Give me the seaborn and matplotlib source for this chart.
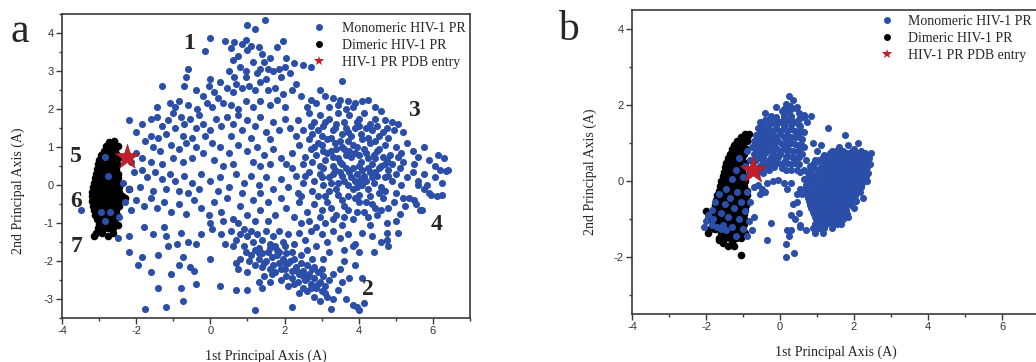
import numpy as np
import pandas as pd
import seaborn as sns
import matplotlib.pyplot as plt
from matplotlib.lines import Line2D
from matplotlib.ticker import MultipleLocator

# ---------------- data ----------------
# panel a, monomeric HIV-1 PR (scattered)
mono_a = [
    (1.48, 4.35), (1.0, 4.22), (1.2, 4.1), (0.0, 3.88), (0.4, 3.78), (0.65, 3.77), (0.85, 3.72), (0.95, 3.82),
    (1.1, 3.65), (1.3, 3.62), (1.95, 3.78), (1.8, 3.62), (1.0, 3.55), (-0.15, 3.52), (1.4, 3.45), (0.55, 3.6),
    (1.6, 3.35), (1.45, 3.25), (1.55, 3.05), (1.7, 3.0), (1.85, 3.05), (2.0, 3.1), (2.05, 3.35), (2.25, 3.2),
    (2.5, 3.15), (2.7, 3.1), (0.75, 3.4), (0.6, 3.3), (0.8, 3.1), (0.5, 3.0), (0.65, 2.85), (0.95, 3.0),
    (1.15, 3.25), (1.25, 2.95), (1.35, 3.05), (1.9, 2.85), (2.15, 2.95), (-0.6, 3.05), (-0.65, 2.85), (0.0, 2.8),
    (-0.05, 2.6), (0.25, 2.7), (0.95, 2.85), (1.5, 2.8), (3.55, 2.75),
    (-1.3, 2.6), (-0.7, 2.6), (-0.4, 2.5), (-0.2, 2.35), (0.1, 2.45), (0.2, 2.3), (0.45, 2.55), (0.6, 2.45),
    (0.7, 2.65), (0.85, 2.55), (1.05, 2.6), (1.2, 2.5), (1.35, 2.7), (1.55, 2.5), (1.75, 2.55), (1.95, 2.4),
    (2.2, 2.5), (2.3, 2.65), (2.45, 2.35), (2.7, 2.25), (2.95, 2.5), (3.1, 2.35), (3.3, 2.3), (3.5, 2.25),
    (3.7, 2.2), (3.9, 2.15), (4.1, 2.2), (4.25, 2.25), (-0.85, 2.2), (-0.95, 2.05), (-0.6, 2.1), (-0.35, 2.0),
    (-0.1, 2.15), (0.05, 2.05), (0.35, 2.15), (0.55, 2.1), (0.75, 2.0), (0.95, 2.2), (1.15, 2.05), (1.35, 2.2),
    (1.6, 2.1), (1.8, 2.25), (2.0, 2.05), (2.6, 2.05), (2.85, 2.15), (3.2, 2.05), (3.45, 2.1), (3.65, 2.0),
    (3.85, 2.05), (4.45, 2.05), (-1.1, 2.15), (-1.45, 2.05),
    (-2.2, 1.7), (-2.0, 1.4), (-1.85, 1.6), (-1.6, 1.75), (-1.45, 1.8), (-1.3, 1.55), (-1.15, 1.7), (-1.0, 1.9),
    (-0.8, 1.8), (-0.7, 1.6), (-0.95, 1.5), (-1.2, 1.35), (-1.4, 1.25), (-1.6, 1.3), (-0.55, 1.75), (-0.3, 1.85),
    (-0.4, 1.5), (-0.2, 1.6), (0.0, 1.45), (0.15, 1.75), (0.3, 1.55), (0.45, 1.8), (0.6, 1.6), (0.75, 1.85),
    (0.85, 1.45), (1.0, 1.7), (1.2, 1.55), (1.35, 1.8), (1.5, 1.4), (1.7, 1.65), (1.85, 1.45), (2.0, 1.75),
    (2.15, 1.5), (2.35, 1.7), (2.5, 1.45), (2.65, 1.9), (2.8, 1.65), (2.95, 1.85), (3.05, 1.55), (3.2, 1.75),
    (3.35, 1.5), (3.45, 1.9), (3.6, 1.65), (3.75, 1.85), (3.9, 1.5), (4.0, 1.75), (4.15, 1.9), (4.3, 1.6),
    (4.45, 1.75), (4.6, 1.95), (4.75, 1.5), (4.9, 1.65), (5.05, 1.6), (5.2, 1.4), (3.0, 1.3), (3.25, 1.25),
    (3.55, 1.35), (3.8, 1.3), (4.05, 1.35), (4.25, 1.25), (4.55, 1.3), (4.8, 1.25), (2.75, 1.35), (-0.15, 1.3),
    (0.55, 1.3), (1.1, 1.25), (1.6, 1.2), (2.3, 1.3), (-0.75, 1.3), (-0.5, 1.25),
    (-1.75, 1.15), (-1.55, 1.0), (-1.35, 0.9), (-1.05, 1.05), (-0.85, 0.95), (-0.65, 1.1), (-0.4, 1.0),
    (-0.2, 0.85), (0.05, 1.1), (0.25, 1.0), (0.5, 0.85), (0.75, 1.05), (1.0, 0.9), (1.25, 1.0), (1.45, 0.8),
    (1.7, 0.95), (1.9, 0.7), (2.2, 0.85), (2.4, 1.05), (2.55, 0.75), (2.7, 0.95), (2.85, 0.8), (3.0, 1.05),
    (3.1, 0.65), (3.25, 0.9), (3.35, 1.1), (3.45, 0.7), (3.6, 0.95), (3.7, 1.15), (3.8, 0.75), (3.95, 1.0),
    (4.05, 0.6), (4.2, 0.85), (4.3, 1.1), (4.45, 0.7), (4.55, 0.95), (4.7, 1.05), (4.85, 0.8), (5.0, 1.0),
    (5.15, 0.85), (5.3, 1.1), (5.45, 0.9), (5.6, 0.75), (5.75, 1.0), (5.9, 0.65), (6.15, 0.8), (6.3, 0.7),
    (6.05, 0.5), (5.5, 0.55), (5.2, 0.6), (4.9, 0.55), (4.6, 0.5), (4.35, 0.55), (3.55, 0.55), (3.3, 0.5),
    (2.95, 0.5), (2.75, 0.6), (2.5, 0.55), (-2.0, 0.85), (-2.15, 0.6), (-1.85, 0.7), (-1.6, 0.6), (-1.3, 0.55),
    (-1.0, 0.7), (-0.75, 0.6), (-0.5, 0.7), (0.1, 0.65), (0.35, 0.5), (0.6, 0.55), (1.15, 0.6), (1.35, 0.5),
    (1.6, 0.55), (2.05, 0.55),
    (-2.05, 0.35), (-1.85, 0.4), (-1.7, 0.2), (-1.5, 0.35), (-1.3, 0.15), (-1.1, 0.3), (-0.95, 0.1), (-0.7, 0.25),
    (-0.5, 0.05), (-0.25, 0.3), (0.0, 0.1), (0.25, 0.2), (0.5, -0.05), (0.7, 0.3), (0.9, 0.05), (1.1, 0.25),
    (1.3, 0.0), (1.5, 0.2), (1.7, -0.1), (1.9, 0.15), (2.1, -0.05), (2.3, 0.25), (2.5, 0.05), (2.65, 0.35),
    (2.8, 0.1), (2.95, 0.3), (3.05, 0.0), (3.2, 0.2), (3.35, 0.4), (3.45, 0.05), (3.55, 0.25), (3.65, 0.45),
    (3.7, 0.0), (3.8, 0.2), (3.9, 0.1), (3.95, 0.3), (4.0, 0.05), (4.05, 0.15), (4.1, 0.0), (4.15, 0.25),
    (4.2, 0.1), (4.3, 0.35), (4.4, 0.05), (4.5, 0.25), (4.6, -0.05), (4.7, 0.2), (4.8, 0.4), (4.9, 0.1),
    (5.0, 0.3), (5.15, 0.0), (5.3, 0.2), (5.45, 0.35), (5.6, 0.1), (5.75, 0.3), (5.85, 0.0), (6.05, 0.2),
    (6.25, 0.05), (6.4, 0.4), (3.85, -0.1), (3.95, -0.05), (4.25, -0.1), (-2.2, -0.1), (-2.35, 0.05),
    (-1.9, -0.05), (-1.55, -0.15), (-1.2, -0.1), (-0.85, -0.15), (-0.6, -0.2), (-0.3, -0.1), (0.2, -0.15),
    (0.85, -0.2), (1.35, -0.2), (2.35, -0.2), (2.75, -0.15),
    (-2.3, -0.45), (-2.15, -0.65), (-2.0, -0.4), (-1.8, -0.55), (-1.6, -0.35), (-1.45, -0.6), (-1.25, -0.45),
    (-1.05, -0.7), (-0.85, -0.5), (-0.65, -0.75), (-0.45, -0.4), (-0.25, -0.6), (-0.05, -0.8), (0.1, -0.45),
    (0.3, -0.7), (0.45, -0.35), (0.6, -0.9), (0.8, -0.55), (1.0, -0.8), (1.15, -0.4), (1.35, -0.65),
    (1.55, -0.45), (1.75, -0.8), (1.9, -0.35), (2.05, -0.6), (2.25, -0.85), (2.4, -0.45), (2.6, -0.7),
    (2.8, -0.5), (2.95, -0.85), (3.1, -0.3), (3.25, -0.6), (3.4, -0.8), (3.55, -0.4), (3.7, -0.65),
    (3.85, -0.9), (4.0, -0.45), (4.15, -0.7), (4.35, -0.5), (4.5, -0.8), (4.65, -0.35), (4.8, -0.6),
    (4.95, -0.45), (5.1, -0.75), (5.25, -0.55), (5.35, -0.35), (5.55, -0.5), (5.7, -0.65), (5.95, -0.25),
    (6.1, -0.3), (-3.5, -0.65), (-2.45, -0.85), (0.0, -1.0), (0.35, -0.95), (0.75, -1.0), (1.2, -0.95),
    (1.55, -0.95), (2.45, -1.0), (3.1, -1.0), (3.55, -1.05), (4.3, -1.05), (4.75, -1.0), (5.0, -0.95),
    (-2.2, -1.35), (-2.5, -1.4), (-1.8, -1.1), (-1.55, -1.3), (-1.25, -1.1), (-1.2, -1.35), (-0.8, -1.25),
    (-0.4, -1.55), (-0.25, -1.3), (0.05, -1.15), (0.3, -1.3), (0.55, -1.2), (0.7, -1.45), (0.8, -1.3),
    (0.9, -1.15), (1.0, -1.35), (1.1, -1.2), (1.15, -1.5), (1.25, -1.3), (1.4, -1.45), (1.5, -1.2),
    (1.6, -1.55), (1.7, -1.35), (1.85, -1.2), (1.95, -1.5), (2.1, -1.3), (2.25, -1.55), (2.4, -1.25),
    (2.55, -1.45), (2.7, -1.2), (2.85, -1.6), (3.0, -1.3), (3.15, -1.5), (3.3, -1.2), (3.5, -1.4),
    (3.7, -1.3), (3.9, -1.55), (4.1, -1.25), (4.35, -1.35), (4.6, -1.5), (4.75, -1.25), (3.6, -1.7),
    (3.2, -1.75), (4.0, -1.75), (0.9, -1.6), (1.3, -1.65), (1.8, -1.7), (2.2, -1.75), (2.6, -1.7), (0.6, -1.6),
    (0.95, -1.75), (1.1, -1.85), (1.2, -1.7), (1.3, -1.95), (1.4, -1.8), (1.5, -2.0), (1.55, -1.75),
    (1.65, -1.9), (1.7, -2.1), (1.8, -1.85), (1.85, -2.05), (1.95, -1.95), (2.0, -2.2), (2.05, -1.8),
    (2.1, -2.05), (2.2, -2.25), (2.25, -1.95), (2.3, -2.15), (2.4, -2.35), (2.45, -2.05), (2.5, -2.25),
    (2.55, -2.5), (2.6, -2.1), (2.65, -2.35), (2.7, -2.6), (2.75, -2.2), (2.8, -2.45), (2.85, -2.7),
    (2.9, -2.3), (2.95, -2.55), (3.0, -2.8), (3.05, -2.4), (3.1, -2.65), (3.15, -2.95), (3.2, -2.5),
    (2.6, -2.8), (2.8, -2.95), (2.95, -3.05), (2.5, -2.7), (2.35, -2.55), (2.2, -2.45), (2.05, -2.4),
    (1.75, -2.3), (1.6, -2.2), (1.45, -2.4), (1.4, -2.15), (1.2, -2.1), (1.05, -2.0), (1.3, -2.55),
    (1.6, -2.55), (1.9, -2.5), (2.1, -2.65), (2.4, -2.85), (3.0, -2.2), (3.3, -2.35), (3.45, -2.75),
    (3.5, -2.2), (3.3, -3.0), (3.55, -2.55), (3.75, -2.45), (3.65, -3.0), (3.85, -3.15), (3.95, -3.2),
    (4.0, -3.3), (4.15, -3.1), (4.1, -2.45), (3.9, -2.1), (3.6, -2.0), (2.75, -1.95), (3.05, -1.95),
    (2.45, -1.85), (2.0, -1.6), (1.75, -1.6), (0.8, -1.95), (0.75, -2.2), (1.0, -2.3), (1.2, -3.3),
    (1.4, -2.7), (2.2, -3.2), (3.25, -3.25), (0.7, -2.05),
    (-1.75, -3.25), (-1.2, -3.2), (-0.75, -3.05), (-1.4, -2.7), (-0.8, -2.7), (-0.4, -2.6), (0.25, -2.65),
    (-1.6, -2.3), (-1.05, -2.35), (-0.85, -2.1), (-0.55, -2.15), (-0.45, -2.25), (0.0, -1.95), (-1.95, -2.1),
    (-2.2, -1.75), (-1.85, -1.9), (-1.4, -1.85), (-1.15, -1.6), (-0.75, -1.9), (-0.6, -1.5), (0.4, -1.55),
    (-0.9, -1.55), (0.7, -2.75), (1.0, -2.75),
    (5.6, 0.0), (6.2, 0.4), (6.35, 0.38), (5.5, -0.4), (5.9, -0.2), (5.75, -0.1), (6.25, -0.25), (5.05, -1.25),
    (4.75, -1.45), (4.4, -1.75), (4.8, -1.6), (3.85, -1.6), (5.65, -0.65),
    (3.15, 0.85), (3.4, 0.95), (3.65, 0.8), (3.9, 0.85), (4.15, 0.95), (4.4, 0.8), (4.65, 0.75), (3.05, 0.45),
    (3.3, 0.3), (3.5, 0.6), (3.75, 0.35), (4.0, 0.5), (4.25, 0.45), (4.45, 0.35), (4.7, 0.55), (3.2, -0.15),
    (3.45, -0.25), (3.7, -0.3), (4.0, -0.25), (4.3, -0.3), (4.55, -0.2), (3.3, 1.45), (3.65, 1.5), (4.0, 1.55),
    (4.35, 1.45), (4.65, 1.4), (2.9, 1.1), (3.15, 1.2), (3.5, 1.15), (3.85, 1.05), (4.1, 1.2), (4.45, 1.15),
    (2.65, 1.2), (2.55, 0.25), (2.2, 0.45), (2.45, -0.3),
    (2.7, 1.55), (2.9, 1.45), (3.1, 1.65), (3.4, 1.6), (3.7, 1.4), (3.95, 1.65), (4.2, 1.5), (4.5, 1.55),
    (4.7, 1.7), (4.95, 1.45), (2.8, 1.0), (3.05, 0.9), (3.3, 0.75), (3.55, 1.0), (3.75, 0.9), (4.0, 0.8),
    (4.25, 0.7), (4.5, 0.9), (4.75, 0.65), (5.05, 0.75), (3.0, 0.2), (3.25, 0.05), (3.5, 0.35), (3.6, 0.1),
    (3.85, 0.45), (4.1, 0.4), (4.35, 0.2), (4.55, 0.45), (4.8, 0.25), (5.1, 0.45), (2.9, -0.3), (3.15, -0.45),
    (3.4, -0.1), (3.6, -0.55), (3.9, -0.35), (4.2, -0.45), (4.45, -0.6), (4.7, -0.15), (5.0, -0.2),
    (5.2, -0.35), (3.0, -0.65), (3.3, -0.9), (3.6, -0.85), (3.95, -0.7), (4.25, -0.85), (4.6, -0.65),
    (2.65, -0.95), (2.85, -1.1),
    (1.3, -1.8), (1.45, -2.05), (1.65, -2.35), (1.9, -2.2), (2.15, -2.0), (2.35, -2.3), (2.6, -2.45),
    (2.8, -2.15), (2.9, -2.6), (3.1, -2.85), (2.7, -2.7), (2.5, -2.4), (2.25, -2.6), (2.0, -2.05),
    (1.85, -1.75), (1.6, -1.65),
    (-2.85, 0.75), (-2.75, 0.25), (-2.95, -0.7), (-2.7, -0.7), (-2.85, -0.95),
]

# panel a, dimeric HIV-1 PR (dense blob), rows of (y, [x ...])
dimer_a_rows = [
    (1.12, [-2.72, -2.6]), (1.02, [-2.82, -2.7, -2.6, -2.5]), (0.9, [-2.88, -2.77, -2.66, -2.56]),
    (0.78, [-2.95, -2.84, -2.73, -2.63, -2.53]), (0.66, [-3.0, -2.89, -2.78, -2.68, -2.58]),
    (0.54, [-3.03, -2.93, -2.82, -2.72, -2.62, -2.53]), (0.42, [-3.06, -2.96, -2.85, -2.75, -2.65, -2.55]),
    (0.3, [-3.09, -2.98, -2.88, -2.78, -2.67, -2.57, -2.48]), (0.18, [-3.11, -3.0, -2.9, -2.8, -2.7, -2.6, -2.5]),
    (0.06, [-3.13, -3.03, -2.93, -2.82, -2.72, -2.62, -2.51]),
    (-0.06, [-3.16, -3.05, -2.95, -2.85, -2.74, -2.64, -2.54, -2.45]),
    (-0.18, [-3.18, -3.07, -2.97, -2.87, -2.76, -2.66, -2.56, -2.45]),
    (-0.3, [-3.2, -3.1, -2.99, -2.89, -2.78, -2.68, -2.58, -2.47, -2.38]),
    (-0.42, [-3.19, -3.08, -2.98, -2.88, -2.77, -2.67, -2.57, -2.46]),
    (-0.54, [-3.17, -3.06, -2.96, -2.86, -2.75, -2.65, -2.55, -2.46]),
    (-0.66, [-3.14, -3.04, -2.94, -2.84, -2.74, -2.64, -2.54]),
    (-0.78, [-3.1, -3.0, -2.9, -2.8, -2.7, -2.6, -2.52]),
    (-0.9, [-3.06, -2.96, -2.86, -2.76, -2.66, -2.57]), (-1.02, [-3.0, -2.9, -2.8, -2.7, -2.6]),
    (-1.14, [-3.02, -2.88, -2.75, -2.62]), (-1.25, [-3.08, -2.92, -2.62]), (-1.35, [-3.15, -2.75]),
]
dimer_a_extra = [(-2.2, -0.1), (-2.3, -0.35), (-2.48, 0.7), (-2.5, -1.05), (-2.6, 1.15)]

# panel b, dimeric HIV-1 PR (band), rows of (y, [x ...])
dimer_b_rows = [
    (1.25, [-0.85, -0.95]), (1.15, [-1.05, -0.9]), (1.05, [-1.15, -1.0, -0.88]), (0.95, [-1.25, -1.12, -1.0]),
    (0.85, [-1.3, -1.18, -1.05, -0.92]), (0.72, [-1.35, -1.22, -1.1, -0.97]), (0.6, [-1.4, -1.27, -1.15, -1.02]),
    (0.48, [-1.45, -1.32, -1.2, -1.07, -0.95]), (0.36, [-1.5, -1.37, -1.25, -1.12, -1.0]),
    (0.24, [-1.52, -1.4, -1.28, -1.15, -1.02]), (0.12, [-1.55, -1.42, -1.3, -1.17, -1.05, -0.93]),
    (0.0, [-1.6, -1.45, -1.33, -1.2, -1.08, -0.95]), (-0.12, [-1.62, -1.5, -1.37, -1.24, -1.1, -0.97]),
    (-0.25, [-1.65, -1.52, -1.4, -1.27, -1.13, -1.0, -0.88]),
    (-0.38, [-1.7, -1.55, -1.42, -1.3, -1.15, -1.02, -0.9]),
    (-0.5, [-1.72, -1.58, -1.45, -1.32, -1.18, -1.05, -0.92]),
    (-0.62, [-1.75, -1.6, -1.47, -1.35, -1.2, -1.07, -0.93]),
    (-0.75, [-1.78, -1.63, -1.5, -1.37, -1.22, -1.08, -0.95]),
    (-0.88, [-1.85, -1.67, -1.52, -1.38, -1.24, -1.1, -0.96]),
    (-1.0, [-1.95, -1.7, -1.55, -1.4, -1.26, -1.12, -0.97]),
    (-1.12, [-1.72, -1.57, -1.42, -1.28, -1.13, -0.98]), (-1.25, [-1.75, -1.58, -1.44, -1.3, -1.15, -1.0]),
    (-1.38, [-1.95, -1.6, -1.45, -1.3, -1.1, -0.95]), (-1.5, [-1.65, -1.5, -1.35, -1.2, -1.05]),
    (-1.62, [-1.55, -1.3]), (-1.7, [-1.4, -1.25]), (-1.95, [-1.05]),
]
dimer_b_extra = [(-2.0, -0.8), (-1.9, -1.25), (-1.65, -1.55)]

# panel b, monomeric HIV-1 PR (scattered parts)
mono_b = [
    (-2.0, -1.05), (-2.05, -1.2), (-1.95, -0.9), (-1.85, -0.75), (-1.8, -1.0), (-1.75, -0.55), (-1.7, -1.2),
    (-1.65, -0.35), (-1.6, -0.85), (-1.55, -1.15), (-1.5, -0.6), (-1.45, -0.2), (-1.4, -0.95), (-1.35, -0.45),
    (-1.3, 0.05), (-1.3, -1.2), (-1.25, -0.7), (-1.2, 0.3), (-1.15, -0.3), (-1.1, -1.0), (-1.1, 0.6),
    (-1.05, -0.55), (-1.0, 0.1), (-1.0, -1.25), (-0.95, 0.4), (-0.95, -0.8), (-0.9, -0.3), (-0.9, 0.8),
    (-0.85, -1.05), (-0.85, 0.2), (-0.8, -0.55), (-0.8, 0.55), (-0.75, -1.3), (-0.88, -1.45), (-1.2, -1.45),
    (-1.45, -1.3), (-1.6, -1.25), (-1.85, -1.15),
    (0.25, 2.25), (0.35, 2.12), (0.15, 2.02), (0.28, 1.98), (0.42, 1.92), (0.05, 1.85), (0.2, 1.85),
    (0.5, 1.8), (0.85, 1.72), (0.65, 1.68), (0.72, 1.55), (-0.4, 1.78), (-0.25, 1.72), (-0.1, 1.68),
    (0.1, 1.72), (0.3, 1.7), (-0.55, 1.55), (-0.4, 1.6), (-0.2, 1.55), (0.0, 1.55), (0.2, 1.6), (0.4, 1.55),
    (0.55, 1.45), (-0.6, 1.4), (-0.45, 1.4), (-0.3, 1.35), (-0.1, 1.4), (0.1, 1.42), (0.3, 1.38), (0.5, 1.3),
    (0.65, 1.3), (-0.65, 1.2), (-0.5, 1.25), (-0.35, 1.2), (-0.2, 1.22), (0.0, 1.25), (0.2, 1.22), (0.4, 1.15),
    (0.6, 1.1), (-0.7, 1.05), (-0.55, 1.05), (-0.4, 1.05), (-0.25, 1.08), (-0.05, 1.05), (0.15, 1.05),
    (0.3, 1.0), (0.5, 0.95), (0.65, 0.9), (-0.75, 0.9), (-0.6, 0.88), (-0.45, 0.9), (-0.3, 0.92), (-0.1, 0.88),
    (0.1, 0.88), (0.25, 0.82), (0.45, 0.78), (0.6, 0.72), (-0.7, 0.72), (-0.55, 0.72), (-0.4, 0.75),
    (-0.2, 0.72), (0.0, 0.72), (0.2, 0.65), (0.4, 0.6), (-0.65, 0.55), (-0.5, 0.58), (-0.3, 0.55),
    (-0.1, 0.55), (0.1, 0.5), (0.3, 0.45), (-0.55, 0.4), (-0.35, 0.4), (-0.15, 0.38), (0.05, 0.35),
    (0.5, 0.45), (0.7, 0.55), (0.8, 0.4), (-0.6, 0.25), (-0.45, 0.22), (0.3, 0.3), (0.55, 0.25), (0.75, 0.2),
    (0.45, 1.95), (0.65, 1.75), (-0.1, 1.95),
    (0.9, 1.0), (1.0, 0.8), (0.95, 0.55), (1.1, 0.95), (1.3, 1.4), (1.55, 0.6), (1.75, 1.2), (1.2, 0.65),
    (1.4, 0.8), (1.6, 0.9), (1.85, 0.95), (2.0, 0.85), (2.1, 1.0), (2.3, 0.75), (2.4, 0.6), (2.45, 0.75),
    (2.2, 0.55),
    (-0.6, -0.1), (-0.5, -0.2), (-0.35, -0.05), (-0.2, 0.0), (-0.05, 0.02), (0.1, -0.05), (0.2, -0.2),
    (0.3, -0.05), (0.45, -0.35), (0.35, -0.6), (0.3, -0.9), (0.2, -1.3), (0.15, -1.65), (0.15, -2.0),
    (0.38, -1.9), (-0.35, -1.55), (-0.7, -0.95), (-0.25, -1.1), (0.55, -0.2), (0.65, 0.05), (-0.55, -0.35),
    (-0.4, -0.3), (-0.7, -0.15), (0.25, -1.45), (0.55, -1.2), (0.4, -1.0),
    (0.5, -0.85), (0.55, -1.15), (0.45, -0.55), (0.6, -0.35), (2.0, -0.7), (1.85, -0.95), (2.25, -0.45),
    (2.35, 0.0), (0.3, -1.3), (0.7, -1.3),
]

# panel b, monomeric HIV-1 PR (dense upper blob near x = 0), rows of (y, [x ...])
mono_b_upper_rows = [
    (1.9, [0.1, 0.3]), (1.62, [-0.3, -0.1, 0.1, 0.3, 0.5]), (1.48, [-0.5, -0.3, -0.1, 0.1, 0.3, 0.5]),
    (1.32, [-0.55, -0.4, -0.2, 0.0, 0.2, 0.4, 0.58]), (1.15, [-0.6, -0.42, -0.28, -0.1, 0.1, 0.3, 0.5]),
    (0.98, [-0.65, -0.48, -0.32, -0.15, 0.05, 0.22, 0.4, 0.58]),
    (0.8, [-0.65, -0.5, -0.35, -0.18, 0.0, 0.18, 0.35, 0.52]),
    (0.64, [-0.6, -0.45, -0.25, -0.05, 0.15, 0.32, 0.5]), (0.48, [-0.45, -0.25, -0.05, 0.2, 0.4]),
    (0.3, [-0.5, -0.3, 0.15, 0.45, 0.65]),
]

# panel b, monomeric HIV-1 PR (dense right blob), rows of (y, [x ...])
mono_b_rows = [
    (0.8, [1.5, 1.7, 1.95, 2.2]), (0.74, [1.35, 1.58, 1.8, 2.1]), (0.68, [1.2, 1.45, 1.65, 1.85, 2.05, 2.3]),
    (0.62, [1.15, 1.38, 1.6, 1.8, 2.0, 2.2]), (0.56, [1.05, 1.3, 1.5, 1.7, 1.9, 2.1, 2.35]),
    (0.5, [0.98, 1.22, 1.45, 1.64, 1.82, 2.0, 2.18, 2.35]),
    (0.44, [0.9, 1.15, 1.35, 1.55, 1.72, 1.9, 2.08, 2.25, 2.42]),
    (0.38, [0.88, 1.1, 1.3, 1.5, 1.68, 1.86, 2.04, 2.2, 2.36]),
    (0.32, [0.85, 1.05, 1.25, 1.42, 1.6, 1.77, 1.95, 2.12, 2.3]),
    (0.26, [0.82, 1.02, 1.22, 1.4, 1.58, 1.76, 1.94, 2.1, 2.28]),
    (0.2, [0.8, 1.0, 1.18, 1.35, 1.52, 1.68, 1.85, 2.02, 2.2, 2.38]),
    (0.14, [0.78, 0.98, 1.15, 1.32, 1.5, 1.66, 1.82, 2.0, 2.16, 2.32]),
    (0.08, [0.75, 0.95, 1.12, 1.3, 1.46, 1.62, 1.78, 1.95, 2.12, 2.28]),
    (0.02, [0.74, 0.92, 1.1, 1.28, 1.44, 1.6, 1.76, 1.92, 2.1, 2.26]),
    (-0.04, [0.72, 0.9, 1.08, 1.25, 1.42, 1.58, 1.74, 1.9, 2.06, 2.22]),
    (-0.1, [0.7, 0.88, 1.05, 1.22, 1.4, 1.56, 1.72, 1.88, 2.04, 2.2]),
    (-0.16, [0.7, 0.88, 1.05, 1.22, 1.38, 1.55, 1.7, 1.86, 2.02, 2.18]),
    (-0.22, [0.7, 0.88, 1.05, 1.22, 1.38, 1.55, 1.72, 1.88, 2.04]),
    (-0.28, [0.72, 0.9, 1.06, 1.22, 1.38, 1.54, 1.7, 1.85, 2.0, 2.15]),
    (-0.34, [0.73, 0.9, 1.07, 1.23, 1.4, 1.55, 1.7, 1.86, 2.0]),
    (-0.4, [0.75, 0.92, 1.08, 1.24, 1.4, 1.56, 1.72, 1.88, 2.02]),
    (-0.46, [0.76, 0.93, 1.1, 1.25, 1.4, 1.56, 1.72, 1.88]),
    (-0.52, [0.78, 0.95, 1.1, 1.26, 1.42, 1.58, 1.74, 1.9, 2.05]),
    (-0.58, [0.8, 0.96, 1.12, 1.27, 1.43, 1.6, 1.76, 1.9]),
    (-0.64, [0.82, 0.98, 1.13, 1.28, 1.44, 1.6, 1.76, 1.92]),
    (-0.7, [0.85, 1.0, 1.15, 1.3, 1.46, 1.62, 1.77]),
    (-0.76, [0.88, 1.02, 1.17, 1.32, 1.47, 1.62, 1.78]), (-0.82, [0.9, 1.05, 1.2, 1.35, 1.5, 1.65]),
    (-0.88, [0.93, 1.08, 1.22, 1.37, 1.52, 1.67, 1.8]), (-0.94, [0.95, 1.1, 1.25, 1.4, 1.55]),
    (-1.0, [0.98, 1.13, 1.28, 1.42, 1.57, 1.7]), (-1.06, [1.05, 1.2, 1.35, 1.5]),
    (-1.12, [0.95, 1.1, 1.25, 1.4, 1.55, 1.65]), (-1.24, [0.9, 1.05, 1.2, 1.4]), (-1.36, [0.95, 1.15]),
]

pdb_a = (-2.25, 0.75)
pdb_b = (-0.73, 0.29)
region_labels = ["1", "2", "3", "4", "5", "6", "7"]
region_x = [-0.58, 4.25, 5.5, 6.1, -3.62, -3.62, -3.62]
region_y = [3.73, -2.74, 1.97, -1.04, 0.75, -0.44, -1.62]
legend_labels = ["Monomeric HIV-1 PR", "Dimeric HIV-1 PR", "HIV-1 PR PDB entry"]


def to_frame(points, *row_sets):
    pts = list(points)
    for rows in row_sets:
        for y, xs in rows:
            pts += [(x, y) for x in xs]
    return pd.DataFrame(pts, columns=["x", "y"])


df_mono_a = to_frame(mono_a)
df_dimer_a = to_frame(dimer_a_extra, dimer_a_rows)
df_mono_b = to_frame(mono_b, mono_b_upper_rows, mono_b_rows)
df_dimer_b = to_frame(dimer_b_extra, dimer_b_rows)

# ---------------- style ----------------
sns.set_style("ticks")
plt.rcParams["font.family"] = ["Liberation Serif", "DejaVu Serif"]
plt.rcParams["axes.unicode_minus"] = False

BLUE = "#2b4ea8"
RED = "#c21f2b"
SPINE = "#3a3a3a"
DOT = 26

fig = plt.figure(figsize=(10.36, 3.62), dpi=100)
W, H = 1036, 362
ax_a = fig.add_axes([62 / W, 1 - 318 / H, 408 / W, 304 / H])
ax_b = fig.add_axes([632 / W, 1 - 314 / H, 407 / W, 304 / H])


def draw(ax, mono, dimer, star, star_size):
    sns.scatterplot(data=dimer, x="x", y="y", ax=ax, color="black", s=DOT + 4, linewidth=0, zorder=2)
    sns.scatterplot(data=mono, x="x", y="y", ax=ax, color=BLUE, s=DOT, linewidth=0, zorder=3)
    ax.scatter([star[0]], [star[1]], marker="*", s=star_size, color=RED,
               edgecolor="#8e1b20", linewidth=0.4, zorder=4)
    ax.set_xlim(-4, 7)
    ax.set_ylim(-3.5, 4.5)
    ax.xaxis.set_major_locator(MultipleLocator(2))
    ax.xaxis.set_minor_locator(MultipleLocator(1))
    for sp in ax.spines.values():
        sp.set_visible(True)
        sp.set_color(SPINE)
        sp.set_linewidth(1.2)
    ax.tick_params(which="major", direction="out", length=4, width=1, color=SPINE,
                   labelsize=8, labelcolor="#333333", pad=2)
    ax.tick_params(which="minor", direction="out", length=2.5, width=1, color=SPINE)
    ax.set_xlabel("1st Principal Axis (A)", fontsize=10, color="#222222")
    ax.set_ylabel("2nd Principal Axis (A)", fontsize=10, color="#222222")


draw(ax_a, df_mono_a, df_dimer_a, pdb_a, 360)
ax_a.yaxis.set_major_locator(MultipleLocator(1))
ax_a.yaxis.set_minor_locator(MultipleLocator(0.5))
draw(ax_b, df_mono_b, df_dimer_b, pdb_b, 420)
ax_b.yaxis.set_major_locator(MultipleLocator(2))
ax_b.yaxis.set_minor_locator(MultipleLocator(1))

for ax in (ax_a, ax_b):
    for lab in ax.get_xticklabels() + ax.get_yticklabels():
        lab.set_family("Liberation Sans")

ax_a.xaxis.set_label_coords(0.5, -0.105)
ax_a.yaxis.set_label_coords(-0.09, 0.42)
ax_b.xaxis.set_label_coords(0.5, -0.105)
ax_b.yaxis.set_label_coords(-0.085, 0.468)

for lab, x, y in zip(region_labels, region_x, region_y):
    ax_a.text(x, y, lab, fontsize=17, fontweight="bold", ha="center", va="center", zorder=5)

handles = [
    Line2D([], [], ls="none", marker="o", color=BLUE, markersize=5, markeredgewidth=0),
    Line2D([], [], ls="none", marker="o", color="black", markersize=5, markeredgewidth=0),
    Line2D([], [], ls="none", marker="*", color=RED, markersize=7.5, markeredgewidth=0),
]
for ax, anchor, pad in ((ax_a, (0.613, 0.975), 1.15), (ax_b, (0.61, 0.985), 1.0)):
    ax.legend(handles, legend_labels, loc="upper left", bbox_to_anchor=anchor, frameon=False,
              fontsize=10, handlelength=1.0, handletextpad=pad, labelspacing=0.3,
              borderpad=0, borderaxespad=0)

fig.text(20 / W, 1 - 32 / H, "a", fontsize=30, ha="center", va="center")
fig.text(568 / W, 1 - 30 / H, "b", fontsize=30, ha="center", va="center")

fig.savefig("out.png", dpi=100)
